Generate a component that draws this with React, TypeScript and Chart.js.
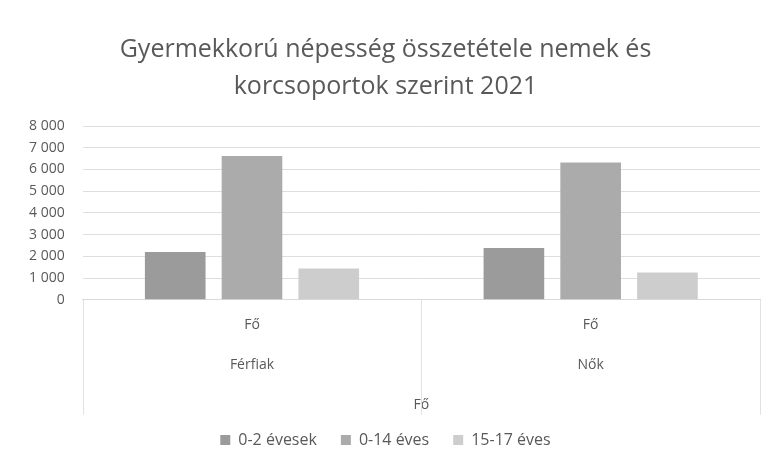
import React, { useEffect, useRef } from "react";
import { Chart, registerables } from "chart.js";

Chart.register(...registerables);

const categories: string[][] = [["Fő", "Férfiak"], ["Fő", "Nők"]];
const seriesNames = ["0-2 évesek", "0-14 éves", "15-17 éves"];
const age0to2 = [2200, 2380];
const age0to14 = [6620, 6320];
const age15to17 = [1440, 1260];
const yTicks = [0, 1000, 2000, 3000, 4000, 5000, 6000, 7000, 8000];
const titleLines = ["Gyermekkorú népesség összetétele nemek és", "korcsoportok szerint 2021"];
const axisTitle = "Fő";

const colors = ["#9b9b9b", "#ababab", "#cdcdcd"];
const FONT = "'Open Sans', 'DejaVu Sans', sans-serif";

const dividerPlugin = {
  id: "dividers",
  afterDraw(chart: any) {
    const x = chart.scales.x;
    const ctx = chart.ctx;
    const n = x.ticks.length;
    const w = x.getPixelForTick(1) - x.getPixelForTick(0);
    ctx.save();
    ctx.strokeStyle = "#e2e2e2";
    ctx.lineWidth = 1;
    for (let i = 0; i <= n; i++) {
      const px = Math.round(x.getPixelForTick(0) - w / 2 + i * w) + 0.5;
      ctx.beginPath();
      ctx.moveTo(px, x.top);
      ctx.lineTo(px, x.top + 115);
      ctx.stroke();
    }
    ctx.restore();
  },
};

export default function App() {
  const ref = useRef<HTMLCanvasElement | null>(null);
  useEffect(() => {
    if (!ref.current) return;
    const data = [age0to2, age0to14, age15to17];
    const chart = new Chart(ref.current, {
      type: "bar",
      data: {
        labels: categories,
        datasets: seriesNames.map((name, i) => ({
          label: name,
          data: data[i],
          backgroundColor: colors[i],
          borderWidth: 0,
          barPercentage: 0.79,
          categoryPercentage: 0.68,
        })),
      },
      plugins: [dividerPlugin],
      options: {
        animation: false,
        responsive: false,
        layout: { padding: { left: 11, right: 10, top: 0, bottom: 12 } },
        plugins: {
          title: {
            display: true,
            text: titleLines,
            color: "#595959",
            font: { family: FONT, size: 25, weight: "normal", lineHeight: 1.48 },
            padding: { top: 31, bottom: 21 },
          },
          legend: {
            position: "bottom",
            labels: {
              color: "#595959",
              font: { family: FONT, size: 16 },
              boxWidth: 10,
              boxHeight: 10,
              padding: 24,
            },
          },
          tooltip: { enabled: false },
        },
        scales: {
          x: {
            grid: { display: false, drawTicks: false },
            border: { display: true, color: "#d9d9d9" },
            ticks: {
              color: "#595959",
              font: { family: FONT, size: 14, lineHeight: 2.8 },
              padding: 6,
              maxRotation: 0,
            },
            title: {
              display: true,
              text: axisTitle,
              color: "#595959",
              font: { family: FONT, size: 14 },
              padding: { top: 6, bottom: -5 },
            },
          },
          y: {
            min: 0,
            max: 8000,
            afterBuildTicks: (axis: any) => {
              axis.ticks = yTicks.map((v) => ({ value: v }));
            },
            grid: { color: "#dedede", drawTicks: false },
            border: { display: false },
            ticks: {
              color: "#595959",
              font: { family: FONT, size: 14 },
              padding: 18,
              callback: (v: any) => String(v).replace(/\B(?=(\d{3})+(?!\d))/g, " "),
            },
          },
        },
      },
    });
    return () => chart.destroy();
  }, []);
  return (
    <div style={{ position: "fixed", left: 0, top: 0, width: 770, height: 470, background: "#fff" }}>
      <canvas ref={ref} width={770} height={470} />
    </div>
  );
}
